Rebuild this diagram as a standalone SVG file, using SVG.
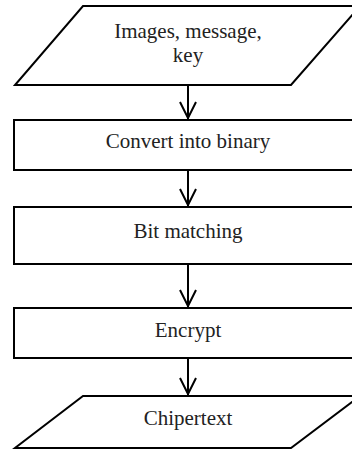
<svg xmlns="http://www.w3.org/2000/svg" width="352" height="451" viewBox="0 0 352 451">
<style>
.shape{fill:#fff;stroke:#000;stroke-width:2}
.lbl{font-family:"Liberation Serif","Times New Roman",serif;font-size:21px;fill:#222;text-anchor:middle}
.conn{fill:none;stroke:#000;stroke-width:2}
</style>
<rect x="0" y="0" width="352" height="451" fill="#fff"/>
<g id="input">
<polygon class="shape" points="83,6 360,6 291,85 15,85"/>
<text class="lbl" x="188" y="38">Images, message,</text>
<text class="lbl" x="188" y="62">key</text>
</g>
<g id="convert">
<rect class="shape" x="14" y="120" width="350" height="50"/>
<text class="lbl" x="188" y="148">Convert into binary</text>
</g>
<g id="bitmatch">
<rect class="shape" x="14" y="207" width="350" height="57"/>
<text class="lbl" x="188" y="238">Bit matching</text>
</g>
<g id="encrypt">
<rect class="shape" x="14" y="308" width="350" height="50"/>
<text class="lbl" x="188" y="337">Encrypt</text>
</g>
<g id="output">
<polygon class="shape" points="83,396 360,396 291,448 15,448"/>
<text class="lbl" x="188" y="425">Chipertext</text>
</g>
<g id="connectors">
<line class="conn" x1="188" y1="85" x2="188" y2="119"/>
<polyline class="conn" points="180,102 188,118 196,102"/>
<line class="conn" x1="188" y1="170" x2="188" y2="206"/>
<polyline class="conn" points="180,189 188,205 196,189"/>
<line class="conn" x1="188" y1="264" x2="188" y2="307"/>
<polyline class="conn" points="180,290 188,306 196,290"/>
<line class="conn" x1="188" y1="358" x2="188" y2="395"/>
<polyline class="conn" points="180,378 188,394 196,378"/>
</g>
</svg>
